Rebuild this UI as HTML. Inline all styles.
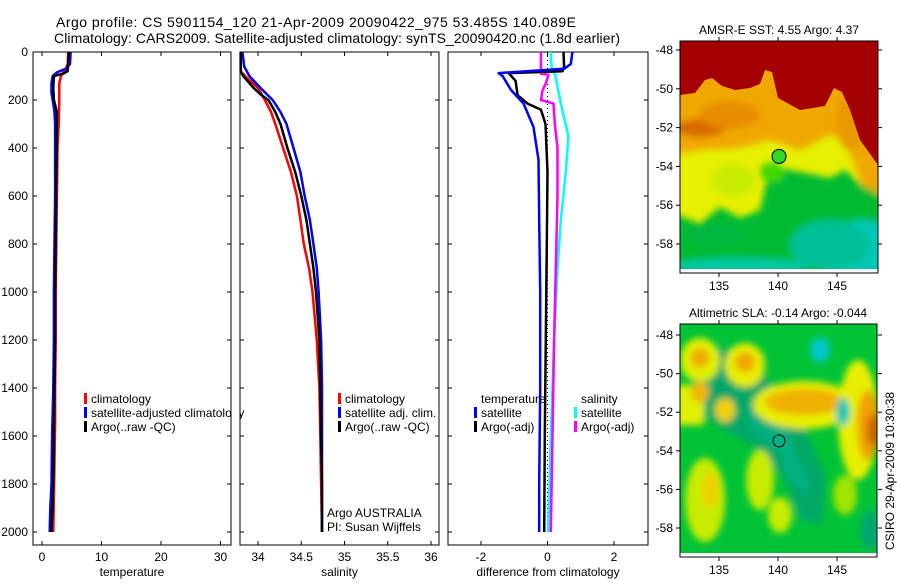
<!DOCTYPE html>
<html><head><meta charset="utf-8"><style>
html,body{margin:0;padding:0;background:#fff;}
svg text{font-family:"Liberation Sans",sans-serif;fill:#000;}
</style></head><body>
<svg id="fig" width="900" height="580" viewBox="0 0 900 580" xmlns="http://www.w3.org/2000/svg">
<defs>
<filter id="blur" x="-10%" y="-10%" width="120%" height="120%"><feGaussianBlur stdDeviation="3.5"/></filter>
<clipPath id="clipA"><rect x="680" y="41" width="198" height="228"/></clipPath>
<clipPath id="clipB"><rect x="680" y="324" width="197" height="229"/></clipPath>
</defs>
<text x="56" y="27" font-size="14" textLength="520">Argo profile: CS 5901154_120 21-Apr-2009 20090422_975 53.485S 140.089E</text>
<text x="54" y="43" font-size="14" textLength="566">Climatology: CARS2009. Satellite-adjusted climatology: synTS_20090420.nc (1.8d earlier)</text>

<g>
<g clip-path="url(#clipA)">
<rect x="680" y="41" width="198" height="228" fill="#e6f000"/>
<g filter="url(#blur)">
<polygon points="670,155 700,150 740,148 770,140 800,150 830,135 845,140 862,185 890,200 890,30 670,30" fill="#f0a800"/>
<ellipse cx="700" cy="128" rx="26" ry="9" fill="#d86a00"/>
<ellipse cx="730" cy="115" rx="30" ry="14" fill="#e88c00"/>
<ellipse cx="850" cy="120" rx="14" ry="30" fill="#e89a00"/>
<ellipse cx="733" cy="180" rx="22" ry="16" fill="#c8ec00"/>
<polygon points="670,212 700,224 720,207 740,218 760,210 768,175 778,168 800,172 830,178 845,170 862,185 890,200 890,280 670,280" fill="#00bb33"/>
<ellipse cx="772" cy="172" rx="12" ry="10" fill="#40d800"/>
<ellipse cx="715" cy="235" rx="28" ry="12" fill="#00b840"/>
<ellipse cx="862" cy="255" rx="40" ry="35" fill="#00c8b8"/>
<ellipse cx="830" cy="245" rx="40" ry="25" fill="#00c098"/>
<ellipse cx="740" cy="266" rx="70" ry="8" fill="#00c8a0"/>
</g>
<polygon points="680,41 680,95 695,93 705,80 712,78 722,86 735,90 750,88 760,84 765,70 772,72 778,98 800,110 825,106 834,88 842,92 850,110 860,140 878,165 878,41" fill="#a40000"/>
<rect x="680" y="269" width="198" height="4" fill="#fff"/>
</g>
<rect x="680" y="41" width="198" height="232" fill="none" stroke="#000" stroke-width="1"/>
<circle id="sstMarker" cx="0" cy="0" r="7" fill="#30d820" stroke="#000" stroke-width="1"/>
<text x="779" y="34" font-size="12" text-anchor="middle">AMSR-E SST: 4.55 Argo: 4.37</text>
</g>

<g>
<g clip-path="url(#clipB)">
<rect x="680" y="324" width="197" height="229" fill="#00c436"/>
<g filter="url(#blur)">
<polygon points="690,345 735,350 775,385 805,430 825,475 822,525 800,520 785,480 760,450 725,430 695,410" fill="#00a868"/>
<ellipse cx="770" cy="430" rx="32" ry="12" fill="#00b080" transform="rotate(45 770 430)"/>
<ellipse cx="795" cy="470" rx="24" ry="9" fill="#00b080" transform="rotate(60 795 470)"/>
<rect x="676" y="385" width="28" height="40" fill="#e0f000"/>
<ellipse cx="700" cy="392" rx="9" ry="10" fill="#f0b400"/>
<ellipse cx="725" cy="410" rx="10" ry="12" fill="#f0d000"/>
<ellipse cx="700" cy="360" rx="20" ry="22" fill="#e0f000"/>
<ellipse cx="700" cy="358" rx="9" ry="10" fill="#f0a800"/>
<ellipse cx="745" cy="365" rx="20" ry="22" fill="#e8ee00"/>
<ellipse cx="745" cy="362" rx="10" ry="10" fill="#f0a800"/>
<ellipse cx="805" cy="405" rx="52" ry="24" fill="#e8ee00"/>
<ellipse cx="805" cy="402" rx="40" ry="13" fill="#f0b000"/>
<ellipse cx="858" cy="420" rx="20" ry="60" fill="#e8ee00"/>
<ellipse cx="868" cy="425" rx="11" ry="35" fill="#f0a000"/>
<ellipse cx="873" cy="430" rx="6" ry="16" fill="#d06000"/>
<ellipse cx="705" cy="500" rx="20" ry="42" fill="#c8ec00"/>
<ellipse cx="710" cy="490" rx="8" ry="18" fill="#f0d000"/>
<ellipse cx="760" cy="480" rx="14" ry="30" fill="#c8ec00"/>
<ellipse cx="780" cy="515" rx="12" ry="18" fill="#c8ec00"/>
<ellipse cx="845" cy="495" rx="12" ry="20" fill="#a0e400"/>
<ellipse cx="820" cy="350" rx="10" ry="12" fill="#00c8d0"/>
<ellipse cx="843" cy="412" rx="7" ry="14" fill="#00c8b8"/>
<ellipse cx="870" cy="530" rx="10" ry="20" fill="#00a870"/>
</g>
<rect x="680" y="553" width="197" height="4" fill="#fff"/>
</g>
<rect x="680" y="324" width="197" height="233" fill="none" stroke="#000" stroke-width="1"/>
<circle id="slaMarker" cx="0" cy="0" r="6" fill="none" stroke="#000" stroke-width="1"/>
<text x="778" y="317" font-size="12" text-anchor="middle">Altimetric SLA: -0.14 Argo: -0.044</text>
<text transform="translate(894 550) rotate(-90)" font-size="12">CSIRO 29-Apr-2009 10:30:38</text>
</g>
<g id="dyn"></g>
</svg>
<script>
// ---- data ----
const depthTick = [0,200,400,600,800,1000,1200,1400,1600,1800,2000];
const tempTicks = [0,10,20,30];
const salTicks = [34,34.5,35,35.5,36];
const salTickLabels = ["34","34.5","35","35.5","36"];
const diffTicks = [-2,0,2];
const mapLonTicks = [135,140,145];
const mapLatTicks = [-48,-50,-52,-54,-56,-58];
const argoLon = 140.089, argoLat = -53.485;

const tClimD = [0,50,70,100,130,200,300,400,600,800,1000,1200,1400,1550,1700,1850,2000];
const tClimV = [4.4,4.3,4.0,3.2,2.9,2.9,2.8,2.6,2.5,2.4,2.3,2.3,2.2,2.2,2.1,2.0,1.9];
const tSatD = [0,50,70,85,100,130,170,200,250,300,400,600,800,1000,1200,1400,1600,1800,1900,2000];
const tSatV = [4.8,4.7,4.0,2.5,1.8,1.6,1.6,1.8,2.1,2.2,2.2,2.2,2.1,2.0,2.0,1.9,1.7,1.6,1.4,1.3];
const tArgoD = [0,50,80,90,100,150,200,250,300,500,800,1000,1200,1400,1600,1800,2000];
const tArgoV = [4.5,4.4,4.3,3.6,2.0,1.9,2.0,2.5,2.5,2.4,2.3,2.2,2.2,2.1,2.0,1.9,1.6];

const sClimD = [0,80,100,150,200,250,300,400,500,600,700,800,900,1000,1200,1400,1600,1800,2000];
const sClimV = [33.8,33.8,33.85,34.0,34.08,34.15,34.2,34.29,34.38,34.45,34.49,34.53,34.59,34.63,34.68,34.71,34.72,34.73,34.74];
const sSatD = [0,60,100,150,200,250,300,400,500,600,700,800,900,1000,1200,1400,1600,1800,2000];
const sSatV = [33.82,33.84,33.9,34.03,34.17,34.26,34.33,34.41,34.49,34.54,34.6,34.64,34.68,34.7,34.73,34.74,34.74,34.74,34.74];
const sArgoD = [0,80,100,150,180,200,250,300,400,500,600,700,800,900,1000,1200,1400,1600,1800,2000];
const sArgoV = [33.8,33.8,33.83,33.95,34.04,34.12,34.2,34.26,34.34,34.43,34.5,34.56,34.6,34.64,34.67,34.71,34.72,34.73,34.74,34.74];

const dTSatD = [0,50,70,88,100,158,215,313,450,700,1000,1400,1800,2000];
const dTSatV = [0.75,0.7,0.5,-1.47,-1.35,-1.1,-0.72,-0.42,-0.27,-0.25,-0.22,-0.22,-0.25,-0.25];
const dTArgoD = [0,60,80,88,120,180,215,240,300,500,800,1200,1600,2000];
const dTArgoV = [0.48,0.5,0.45,-1.17,-0.96,-0.9,-0.6,-0.2,-0.06,0.0,-0.02,-0.05,-0.08,-0.1];
const dSArgoD = [0,90,95,130,160,200,215,300,400,600,900,1200,1600,2000];
const dSArgoV = [-0.2,-0.2,0.03,-0.05,-0.15,-0.2,0.18,0.22,0.3,0.3,0.25,0.2,0.15,0.1];
const dSSatD = [0,60,100,215,350,500,700,900,1200,1600,2000];
const dSSatV = [0.1,0.12,0.24,0.4,0.63,0.55,0.4,0.3,0.2,0.1,0.02];

// ---- helpers ----
const NS = "http://www.w3.org/2000/svg";
const root = document.getElementById('dyn');
function mk(tag, attrs, parent){const e=document.createElementNS(NS,tag);for(const k in attrs)e.setAttribute(k,attrs[k]);(parent||root).appendChild(e);return e;}
const Y0=52, Y1=545, DPX=0.24;
const yD = d => Y0 + d*DPX;
function lin(v0,p0,v1,p1){return v=>p0+(v-v0)*(p1-p0)/(v1-v0);}
const xT = lin(0,42,30,220.5);
const xS = lin(34,258,36,431);
const xDf = lin(-2,481,2,614);

function panel(name,x0,x1,xf,ticks,labels,xlabel,showY){
  const g=mk('g',{});
  
  
  const r=mk('rect',{x:x0,y:Y0,width:x1-x0,height:Y1-Y0,fill:'none',stroke:'#000','stroke-width':1},g);
  
  
  ticks.forEach((t,i)=>{
    const x=xf(t);
    mk('line',{x1:x,x2:x,y1:Y1,y2:Y1-4,stroke:'#000'},g);
    mk('line',{x1:x,x2:x,y1:Y0,y2:Y0+4,stroke:'#000'},g);
    const tx=mk('text',{x:x,y:561,'font-size':12,'text-anchor':'middle'},g);
    tx.textContent=labels[i];
    
    
  });
  depthTick.forEach(d=>{
    mk('line',{x1:x0,x2:x0+4,y1:yD(d),y2:yD(d),stroke:'#000'},g);
    mk('line',{x1:x1,x2:x1-4,y1:yD(d),y2:yD(d),stroke:'#000'},g);
    if(showY){
      const tx=mk('text',{x:28,y:yD(d)+4,'font-size':12,'text-anchor':'end'},g);
      tx.textContent=String(d);
      
      
    }
  });
  const xl=mk('text',{x:(x0+x1)/2,y:576,'font-size':12,'text-anchor':'middle'},g);
  xl.textContent=xlabel;
  
  
  return g;
}
function line(g,xf,D,V,color,name,w){
  const pts=D.map((d,i)=>xf(V[i]).toFixed(1)+','+yD(d).toFixed(1)).join(' ');
  const p=mk('polyline',{points:pts,fill:'none',stroke:color,'stroke-width':w||2.5,'stroke-linejoin':'round'},g);
  
  
}
function legend(g,x,y,color,label,name){
  if(color){mk('rect',{x:x,y:y-10,width:3,height:11,fill:color},g);}
  const t=mk('text',{x:x+7,y:y,'font-size':12},g);
  t.textContent=label;
  
  
}

// temperature panel
const gT=panel('temperature-panel',33,231,xT,tempTicks,tempTicks.map(String),'temperature',true);
line(gT,xT,tClimD,tClimV,'#ff0000','temp-climatology-line');
line(gT,xT,tSatD,tSatV,'#0000ff','temp-satellite-line');
line(gT,xT,tArgoD,tArgoV,'#000000','temp-argo-line');
legend(gT,84,403,'#ff0000','climatology','legend-climatology');
legend(gT,84,417,'#0000ff','satellite-adjusted climatology','legend-satellite-adjusted');
legend(gT,84,431,'#000000','Argo(..raw -QC)','legend-argo');
mk('rect',{x:232,y:390,width:8,height:30,fill:'#fff'});

// salinity panel
const gS=panel('salinity-panel',240,439,xS,salTicks,salTickLabels,'salinity',false);
line(gS,xS,sClimD,sClimV,'#ff0000','sal-climatology-line');
line(gS,xS,sSatD,sSatV,'#0000ff','sal-satellite-line');
line(gS,xS,sArgoD,sArgoV,'#000000','sal-argo-line');
legend(gS,338,403,'#ff0000','climatology','legend-sal-climatology');
legend(gS,338,417,'#0000ff','satellite adj. clim.','legend-sal-satellite');
legend(gS,338,431,'#000000','Argo(..raw -QC)','legend-sal-argo');
legend(gS,320,517,null,'Argo AUSTRALIA','argo-australia-label');
legend(gS,320,531,null,'PI: Susan Wijffels','pi-label');

// difference panel
const gD=panel('difference-panel',448,648,xDf,diffTicks,diffTicks.map(String),'difference from climatology',false);
const z=mk('line',{x1:xDf(0),x2:xDf(0),y1:yD(0),y2:yD(2000),stroke:'#000','stroke-width':1,'stroke-dasharray':'1,3'},gD);


line(gD,xDf,dSSatD,dSSatV,'#00ffff','diff-sal-satellite-line');
line(gD,xDf,dSArgoD,dSArgoV,'#ff00ff','diff-sal-argo-line');
line(gD,xDf,dTArgoD,dTArgoV,'#000000','diff-temp-argo-line');
line(gD,xDf,dTSatD,dTSatV,'#0000ff','diff-temp-satellite-line');
legend(gD,474,403,null,'temperature','legend-temperature-heading');
legend(gD,474,417,'#0000ff','satellite','legend-temp-satellite');
legend(gD,474,431,'#000000','Argo(-adj)','legend-temp-argo');
legend(gD,574,403,null,'salinity','legend-salinity-heading');
legend(gD,574,417,'#00ffff','satellite','legend-sal-sat');
legend(gD,574,431,'#ff00ff','Argo(-adj)','legend-sal-argo-diff');

// maps axes
function mapAxes(name,lat0y,lat1y,boxTop,boxBot,markerId){
  const xL=lin(135,719,145,837), yL=lin(-48,lat0y,-58,lat1y);
  const g=mk('g',{});
  
  
  mapLonTicks.forEach(v=>{
    const x=xL(v);
    mk('line',{x1:x,x2:x,y1:boxBot,y2:boxBot+4,stroke:'#000'},g);
    mk('line',{x1:x,x2:x,y1:boxTop,y2:boxTop-4,stroke:'#000'},g);
    const t=mk('text',{x:x,y:boxBot+17,'font-size':12,'text-anchor':'middle'},g);
    t.textContent=String(v);
    
    
  });
  mapLatTicks.forEach(v=>{
    const y=yL(v);
    mk('line',{x1:676,x2:680,y1:y,y2:y,stroke:'#000'},g);
    mk('line',{x1:878,x2:882,y1:y,y2:y,stroke:'#000'},g);
    const t=mk('text',{x:673,y:y+4,'font-size':12,'text-anchor':'end'},g);
    t.textContent=String(v);
    
    
  });
  const m=document.getElementById(markerId);
  m.setAttribute('cx',xL(argoLon));
  m.setAttribute('cy',yL(argoLat));
}
mapAxes('sst-map-axes',50,244,41,273,'sstMarker');
mapAxes('sla-map-axes',335,528,324,557,'slaMarker');
</script>
</body></html>
